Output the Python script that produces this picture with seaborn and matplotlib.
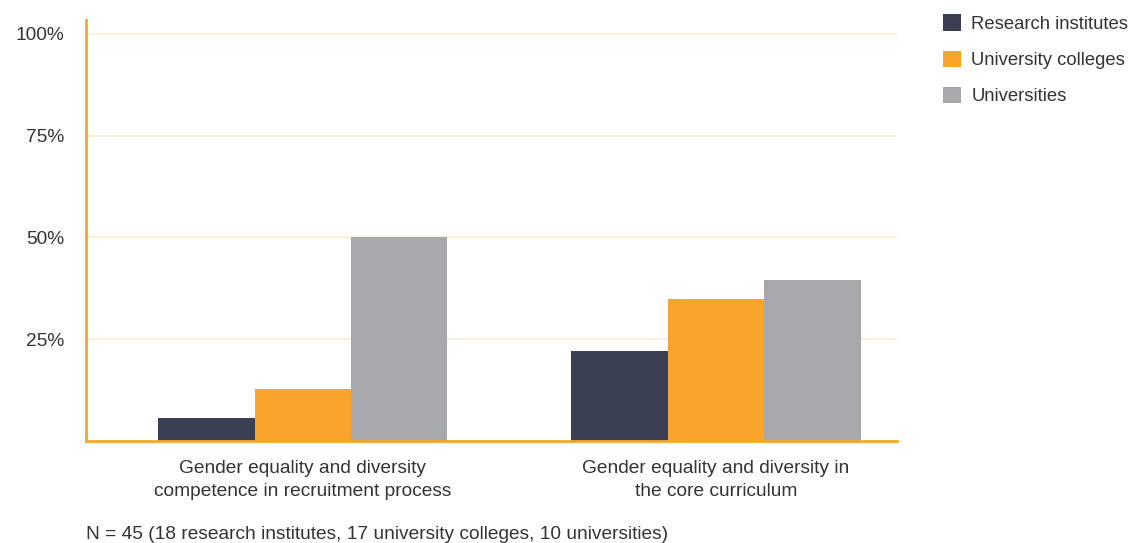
import matplotlib
matplotlib.use("Agg")
import matplotlib.pyplot as plt
import seaborn as sns
import pandas as pd
from matplotlib.patches import Patch

categories = [
    "Gender equality and diversity\ncompetence in recruitment process",
    "Gender equality and diversity in\nthe core curriculum",
]
institution_types = ["Research institutes", "University colleges", "Universities"]
research_institutes = [5.6, 22.2]
university_colleges = [12.8, 35.0]
universities = [50.0, 39.6]
tick_values = [25, 50, 75, 100]
tick_labels = ["25%", "50%", "75%", "100%"]
footnote = "N = 45 (18 research institutes, 17 university colleges, 10 universities)"

colors = ["#3b3f54", "#f9a52b", "#a7a8ab"]
text_color = "#333333"
accent = "#f9a52b"
grid_color = "#fdebcf"

rows = []
for name, vals in zip(institution_types,
                      [research_institutes, university_colleges, universities]):
    for cat, v in zip(categories, vals):
        rows.append({"category": cat, "type": name, "value": v})
df = pd.DataFrame(rows)

sns.set_style("white")
plt.rcParams["font.family"] = ["Liberation Sans", "DejaVu Sans"]

fig = plt.figure(figsize=(11.3, 5.43), dpi=100)
ax = fig.add_axes([0.0761, 0.1878, 0.7177, 0.7754])

sns.barplot(data=df, x="category", y="value", hue="type", order=categories,
            hue_order=institution_types, palette=colors, width=0.7,
            saturation=1, ax=ax, legend=False, linewidth=0, errorbar=None)

ax.set_xlim(-0.525, 1.438)
ax.set_ylim(0, 103.4)
ax.set_yticks(tick_values)
ax.set_yticklabels(tick_labels)
ax.yaxis.grid(True, color=grid_color, linewidth=1.2)
ax.set_axisbelow(True)
ax.tick_params(axis="y", length=0, pad=15.5, labelsize=13.8, labelcolor=text_color)
ax.tick_params(axis="x", length=0, pad=14, labelsize=13.8, labelcolor=text_color)
for lbl in ax.get_xticklabels():
    lbl.set_linespacing(1.4)
ax.set_xlabel("")
ax.set_ylabel("")

for side in ["top", "right"]:
    ax.spines[side].set_visible(False)
for side in ["left", "bottom"]:
    ax.spines[side].set_color(accent)
    ax.spines[side].set_linewidth(2)

handles = [Patch(facecolor=c, edgecolor="none") for c in colors]
fig.legend(handles, institution_types, loc="upper left",
           bbox_to_anchor=(0.8195, 1.004), frameon=False, fontsize=13.3,
           handlelength=1.0, handleheight=1.0, handletextpad=0.55,
           labelspacing=0.95, labelcolor=text_color, borderaxespad=0.5)

fig.text(0.0761, 0.007, footnote, fontsize=13.8, color=text_color,
         ha="left", va="baseline")

fig.savefig("out.png", dpi=100)
